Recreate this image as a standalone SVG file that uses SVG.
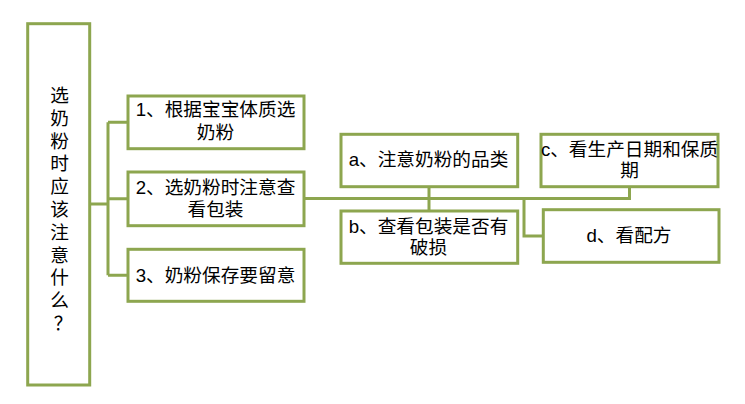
<svg xmlns="http://www.w3.org/2000/svg" width="745" height="404" viewBox="0 0 745 404">
<style>
.box{fill:#ffffff;stroke:#8da64f;stroke-width:3}
.ln{fill:none;stroke:#8da64f;stroke-width:3}
text{font-family:"Liberation Sans","Noto Sans CJK SC",sans-serif;font-size:18.67px;fill:#000;text-anchor:middle}
</style>
<rect width="745" height="404" fill="#ffffff"/>
<g id="connectors">
<path class="ln" d="M90 204H108M108 122.3V275.3M108 122.3H128M108 198.8H128M108 275.3H128"/>
<path class="ln" d="M304 198.5H629.5V187M429 187V211M524 198.5V236H543"/>
</g>
<g id="root">
<rect class="box" x="27.7" y="23.7" width="62" height="361.3"/>
<text x="59.5" y="102"><tspan x="59.5">选</tspan><tspan x="59.5" dy="22.8">奶</tspan><tspan x="59.5" dy="22.8">粉</tspan><tspan x="59.5" dy="22.8">时</tspan><tspan x="59.5" dy="22.8">应</tspan><tspan x="59.5" dy="22.8">该</tspan><tspan x="59.5" dy="22.8">注</tspan><tspan x="59.5" dy="22.8">意</tspan><tspan x="59.5" dy="22.8">什</tspan><tspan x="59.5" dy="22.8">么</tspan><tspan x="63" dy="22.8">？</tspan></text>
</g>
<g id="n1">
<rect class="box" x="128" y="96" width="176" height="52.7"/>
<text x="215.5" y="116">1、根据宝宝体质选<tspan x="215.5" dy="23">奶粉</tspan></text>
</g>
<g id="n2">
<rect class="box" x="128" y="172" width="176" height="53.7"/>
<text x="215.5" y="194">2、选奶粉时注意查<tspan x="215.5" dy="22">看包装</tspan></text>
</g>
<g id="n3">
<rect class="box" x="128" y="249.3" width="176" height="52"/>
<text x="215.5" y="282">3、奶粉保存要留意</text>
</g>
<g id="na">
<rect class="box" x="341" y="134.3" width="176.7" height="52.4"/>
<text x="428.5" y="166">a、注意奶粉的品类</text>
</g>
<g id="nb">
<rect class="box" x="341" y="211" width="176.7" height="52.3"/>
<text x="428.5" y="233">b、查看包装是否有<tspan x="428.5" dy="21">破损</tspan></text>
</g>
<g id="nc">
<rect class="box" x="541" y="134.3" width="177" height="52.4"/>
<text x="629.5" y="156">c、看生产日期和保质<tspan x="629.5" dy="21">期</tspan></text>
</g>
<g id="nd">
<rect class="box" x="543.3" y="209.7" width="175.7" height="52.6"/>
<text x="629" y="242">d、看配方</text>
</g>
</svg>
